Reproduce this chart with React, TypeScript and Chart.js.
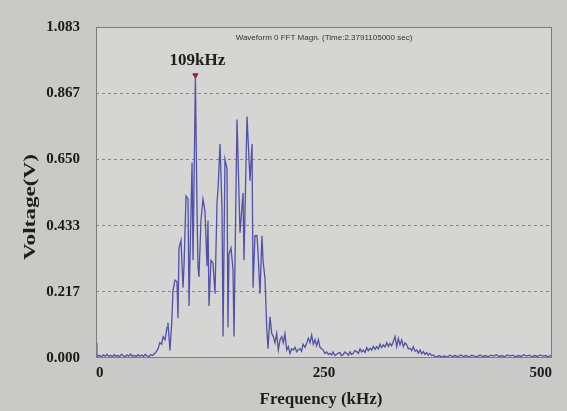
import React, { useEffect, useRef } from "react";
import { Chart, registerables } from "chart.js";

Chart.register(...registerables);

// Frequency (kHz) of each spectrum sample
const freqKHz: number[] = [
  0, 1, 2, 4, 6, 8, 10, 12, 14, 16,
  18, 20, 22, 24, 26, 28, 30, 32, 34, 36,
  38, 40, 42, 44, 46, 48, 50, 52, 54, 56,
  58, 60, 62, 64, 66, 68, 70, 72, 73.5, 75.7,
  77.9, 78.9, 81.1, 83.3, 84.4, 86.6, 88.8, 89.9, 91, 93.2,
  95.4, 96.5, 98.7, 100.9, 102, 104.2, 105.3, 106.4, 109, 110.7,
  111.8, 112.9, 115.1, 117.3, 119.5, 121.7, 122.8, 123.9, 126.1, 128.3,
  130.5, 132.7, 133.8, 136, 138.2, 139.3, 141.4, 143.6, 144.7, 145.8,
  148, 150.2, 151.3, 154.6, 155.7, 157.9, 161.2, 162.3, 164.5, 165.6,
  168.9, 171.1, 172.2, 174.3, 176.5, 177.6, 179.8, 182, 183.1, 185.3,
  187.2, 188.6, 190.8, 192.7, 194.4, 196.3, 198.1, 199.9, 201.8, 203.6,
  205.4, 207.2, 209.1, 210.9, 212.7, 214.5, 216.3, 218.2, 220.1, 222,
  223.7, 225.4, 227, 229.2, 231, 232.8, 234.7, 236.5, 238.3, 240.1,
  241.9, 243.8, 245.6, 247.4, 249.2, 251, 253, 254.8, 256.6, 258.4,
  259.9, 262, 263.9, 265.7, 267.5, 269, 270.8, 272.9, 274.9, 276.7,
  278.5, 280, 281.8, 283.8, 285.9, 287.7, 289.5, 291.3, 293.1, 295,
  296.8, 298.6, 300.4, 302.2, 304.1, 306, 307.8, 309.6, 311.4, 313.2,
  315, 316.9, 318.8, 320.6, 322.4, 324.2, 326, 327.9, 329.7, 331.5,
  333.3, 335.2, 337, 338.8, 340.7, 342.5, 344.3, 346.1, 347.9, 349.8,
  351.6, 353.4, 355.3, 357, 358.9, 360.8, 362.6, 364.4, 366.2, 368,
  369.8, 371.7, 373.6, 376, 379, 382, 385, 388, 391, 394,
  397, 400, 403, 406, 409, 412, 415, 418, 421, 424,
  427, 430, 433, 436, 439, 442, 445, 448, 451, 454,
  457, 460, 463, 466, 469, 472, 475, 478, 481, 484,
  487, 490, 493, 496, 499, 500,
];

// FFT magnitude (V) at each frequency above
const voltage: number[] = [
  0.05, 0.012, 0.006, 0.008, 0.004, 0.010, 0.006, 0.012, 0.005, 0.009,
  0.004, 0.011, 0.006, 0.008, 0.005, 0.012, 0.007, 0.004, 0.010, 0.006,
  0.013, 0.005, 0.009, 0.004, 0.011, 0.006, 0.010, 0.005, 0.012, 0.007,
  0.004, 0.011, 0.008, 0.014, 0.02, 0.03, 0.05, 0.045, 0.07, 0.06,
  0.10, 0.115, 0.025, 0.13, 0.22, 0.255, 0.25, 0.13, 0.36, 0.385,
  0.23, 0.30, 0.53, 0.52, 0.17, 0.485, 0.64, 0.32, 0.92, 0.50,
  0.30, 0.265, 0.45, 0.52, 0.48, 0.30, 0.45, 0.17, 0.32, 0.31,
  0.21, 0.51, 0.55, 0.70, 0.48, 0.07, 0.65, 0.62, 0.10, 0.34,
  0.36, 0.29, 0.07, 0.78, 0.66, 0.41, 0.54, 0.32, 0.64, 0.79,
  0.58, 0.70, 0.23, 0.40, 0.40, 0.35, 0.21, 0.40, 0.32, 0.26,
  0.10, 0.03, 0.135, 0.08, 0.07, 0.05, 0.08, 0.026, 0.06, 0.07,
  0.05, 0.08, 0.026, 0.037, 0.015, 0.03, 0.026, 0.035, 0.02, 0.028,
  0.03, 0.022, 0.045, 0.035, 0.048, 0.065, 0.05, 0.075, 0.045, 0.06,
  0.04, 0.06, 0.035, 0.03, 0.026, 0.015, 0.02, 0.012, 0.015, 0.01,
  0.02, 0.008, 0.012, 0.016, 0.018, 0.008, 0.01, 0.02, 0.015, 0.009,
  0.02, 0.012, 0.014, 0.024, 0.021, 0.015, 0.03, 0.02, 0.026, 0.018,
  0.034, 0.024, 0.032, 0.026, 0.038, 0.028, 0.037, 0.03, 0.045, 0.034,
  0.043, 0.036, 0.05, 0.038, 0.048, 0.04, 0.054, 0.07, 0.037, 0.064,
  0.043, 0.059, 0.037, 0.05, 0.043, 0.03, 0.032, 0.024, 0.037, 0.022,
  0.026, 0.016, 0.026, 0.014, 0.021, 0.012, 0.018, 0.009, 0.015, 0.008,
  0.01, 0.005, 0.004, 0.008, 0.004, 0.007, 0.003, 0.009, 0.005, 0.008,
  0.004, 0.01, 0.005, 0.008, 0.003, 0.009, 0.006, 0.004, 0.01, 0.005,
  0.008, 0.004, 0.009, 0.006, 0.011, 0.005, 0.008, 0.004, 0.01, 0.006,
  0.009, 0.004, 0.008, 0.005, 0.011, 0.006, 0.009, 0.004, 0.008, 0.005,
  0.01, 0.006, 0.008, 0.004, 0.009, 0.006,
];

const xTickValues: number[] = [0, 250, 500];
const yTickValues: number[] = [0, 0.217, 0.433, 0.65, 0.867, 1.083];
const peakFreqKHz = 109;
const peakVoltage = 0.925;
const peakLabel = "109kHz";
const chartTitle = "Waveform 0 FFT Magn. (Time:2.3791105000 sec)";
const xTitle = "Frequency (kHz)";
const yTitle = "Voltage(V)";

const SERIF = "'Liberation Serif', 'Times New Roman', serif";
const SANS = "'Liberation Sans', Arial, sans-serif";

export default function App() {
  const ref = useRef<HTMLCanvasElement | null>(null);

  useEffect(() => {
    document.body.style.margin = "0";
    const canvas = ref.current;
    if (!canvas) return;

    const decor = {
      id: "decor",
      beforeDraw(chart: any) {
        const { ctx, chartArea: a } = chart;
        ctx.save();
        ctx.fillStyle = "#c9c9c7";
        ctx.fillRect(0, 0, chart.width, chart.height);
        ctx.fillStyle = "#d5d5d3";
        ctx.fillRect(a.left, a.top, a.right - a.left, a.bottom - a.top);
        ctx.restore();
      },
      afterDraw(chart: any) {
        const { ctx, chartArea: a, scales } = chart;
        ctx.save();
        ctx.strokeStyle = "#7c7c7c";
        ctx.lineWidth = 1;
        ctx.strokeRect(a.left + 0.5, a.top + 0.5, a.right - a.left - 1, a.bottom - a.top - 1);

        ctx.fillStyle = "#333";
        ctx.font = `8px ${SANS}`;
        ctx.textAlign = "center";
        ctx.textBaseline = "middle";
        ctx.fillText(chartTitle, (a.left + a.right) / 2, a.top + 11);

        const px = scales.x.getPixelForValue(peakFreqKHz);
        const py = scales.y.getPixelForValue(peakVoltage);
        ctx.fillStyle = "#1e1e1e";
        ctx.font = `bold 17px ${SERIF}`;
        ctx.textBaseline = "bottom";
        ctx.fillText(peakLabel, px + 2, py - 6);

        ctx.font = `bold 17px ${SERIF}`;
        ctx.textBaseline = "middle";
        ctx.fillText(xTitle, 321, 400);

        ctx.translate(31, 207);
        ctx.rotate(-Math.PI / 2);
        ctx.scale(1.45, 1);
        ctx.font = `bold 16px ${SERIF}`;
        ctx.fillText(yTitle, 0, 0);
        ctx.restore();
      },
    };

    const chart = new Chart(canvas, {
      type: "line",
      data: {
        datasets: [
          {
            data: freqKHz.map((f, i) => ({ x: f, y: voltage[i] })),
            borderColor: "#5151a8",
            borderWidth: 1.3,
            pointRadius: 0,
            tension: 0,
            fill: false,
          },
          {
            data: [{ x: peakFreqKHz, y: peakVoltage }],
            showLine: false,
            pointStyle: "triangle",
            rotation: 180,
            pointRadius: 3,
            backgroundColor: "#9a1d3c",
            borderColor: "#9a1d3c",
          },
        ],
      },
      options: {
        responsive: false,
        animation: false,
        layout: { padding: { left: 0, top: 27, right: 15, bottom: 0 } },
        plugins: { legend: { display: false }, tooltip: { enabled: false }, title: { display: false } },
        scales: {
          x: {
            type: "linear",
            min: 0,
            max: 500,
            afterBuildTicks: (s: any) => {
              s.ticks = xTickValues.map((v) => ({ value: v }));
            },
            afterFit: (s: any) => {
              s.height = 53;
            },
            grid: { display: false, drawTicks: false },
            border: { display: false },
            ticks: {
              align: "inner",
              padding: 6,
              color: "#1a1a1a",
              font: { family: SERIF, size: 15, weight: "bold" },
              maxRotation: 0,
              callback: (v: any) => String(v),
            },
          },
          y: {
            min: 0,
            max: 1.083,
            afterBuildTicks: (s: any) => {
              s.ticks = yTickValues.map((v) => ({ value: v }));
            },
            afterFit: (s: any) => {
              s.width = 96;
            },
            grid: {
              drawTicks: false,
              color: (c: any) =>
                c.tick && (c.tick.value === 0 || c.tick.value === 1.083) ? "rgba(0,0,0,0)" : "#878787",
              lineWidth: 1,
            },
            border: { display: false, dash: [3, 3] },
            ticks: {
              padding: 16,
              color: "#1a1a1a",
              font: { family: SERIF, size: 15, weight: "bold" },
              callback: (v: any) => Number(v).toFixed(3),
            },
          },
        },
      },
      plugins: [decor],
    } as any);

    return () => chart.destroy();
  }, []);

  return (
    <div style={{ width: 567, height: 411 }}>
      <canvas ref={ref} width={567} height={411} style={{ display: "block" }} />
    </div>
  );
}
